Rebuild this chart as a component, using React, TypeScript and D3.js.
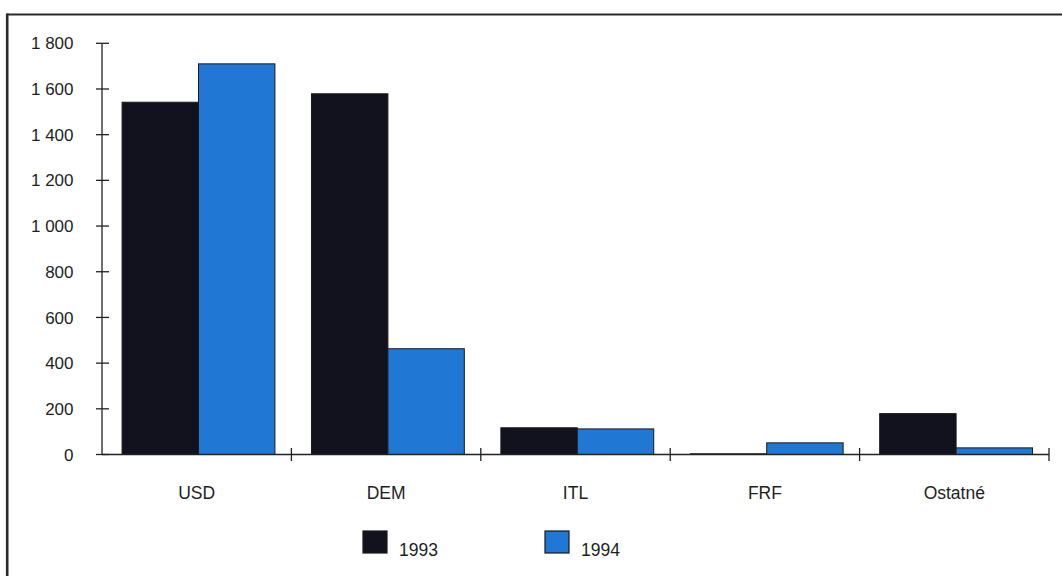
import React from "react";
import * as d3 from "d3";

const categories = ["USD", "DEM", "ITL", "FRF", "Ostatné"];
const seriesNames = ["1993", "1994"];
const values1993 = [1542, 1579, 117, 3, 179];
const values1994 = [1710, 463, 112, 51, 29];
const yTicks = [0, 200, 400, 600, 800, 1000, 1200, 1400, 1600, 1800];
const seriesColors = ["#12121f", "#2077d4"];

const W = 1062;
const H = 576;
const FONT = "'Liberation Sans', Arial, sans-serif";

function fmt(v: number): string {
  const s = String(v);
  return s.length > 3 ? s.slice(0, s.length - 3) + " " + s.slice(-3) : s;
}

export default function App() {
  const x0 = 102;
  const x1 = 1049;
  const y = d3.scaleLinear().domain([0, 1800]).range([454.5, 43.3]);
  const xBand = d3.scaleBand<string>().domain(categories).range([x0, x1]).paddingInner(0).paddingOuter(0);
  const bw = xBand.bandwidth();
  const inner = d3.scaleBand<string>().domain(seriesNames).range([bw * 0.106, bw * 0.913]).padding(0);
  const series = [values1993, values1994];
  const boundaries = d3.range(categories.length + 1).map((i) => x0 + i * bw);

  return (
    <div style={{ position: "absolute", left: 0, top: 0 }}>
      <svg width={W} height={H} style={{ display: "block", background: "#fff" }} fontFamily={FONT}>
        {/* frame */}
        <line x1={7} y1={14.5} x2={W} y2={14.5} stroke="#2a2a2a" strokeWidth={2.2} />
        <line x1={7.2} y1={13.5} x2={7.2} y2={H} stroke="#2a2a2a" strokeWidth={2.6} />

        {/* bars */}
        {categories.map((c, ci) =>
          seriesNames.map((s, si) => {
            const v = series[si][ci];
            const bx = (xBand(c) as number) + (inner(s) as number);
            const top = y(v);
            return (
              <rect
                key={c + s}
                x={bx}
                y={top}
                width={inner.bandwidth()}
                height={y(0) - top}
                fill={seriesColors[si]}
                stroke="#1a1a1a"
                strokeWidth={1}
              />
            );
          })
        )}

        {/* y axis */}
        <line x1={x0} y1={y(0)} x2={x0} y2={y(1800)} stroke="#222" strokeWidth={1.3} />
        {yTicks.map((t) => (
          <g key={t}>
            <line x1={96} x2={109} y1={y(t)} y2={y(t)} stroke="#222" strokeWidth={1.3} />
            <text x={73.5} y={y(t)} dy="0.36em" textAnchor="end" fontSize={17} fill="#1e1e1e">
              {fmt(t)}
            </text>
          </g>
        ))}

        {/* x axis */}
        <line x1={x0} y1={y(0)} x2={x1} y2={y(0)} stroke="#222" strokeWidth={1.3} />
        {boundaries.slice(1).map((bx, i) => (
          <line key={i} x1={bx} x2={bx} y1={448} y2={461} stroke="#222" strokeWidth={1.3} />
        ))}
        {categories.map((c) => (
          <text
            key={c}
            x={(xBand(c) as number) + bw / 2}
            y={499}
            textAnchor="middle"
            fontSize={17.5}
            fill="#1e1e1e"
          >
            {c}
          </text>
        ))}

        {/* legend */}
        {seriesNames.map((s, i) => {
          const lx = 363 + i * 182;
          return (
            <g key={s}>
              <rect x={lx} y={531} width={24} height={22} fill={seriesColors[i]} stroke="#1a1a1a" strokeWidth={1.2} />
              <text x={lx + 36} y={556} fontSize={17.5} fill="#1e1e1e">
                {s}
              </text>
            </g>
          );
        })}
      </svg>
    </div>
  );
}
